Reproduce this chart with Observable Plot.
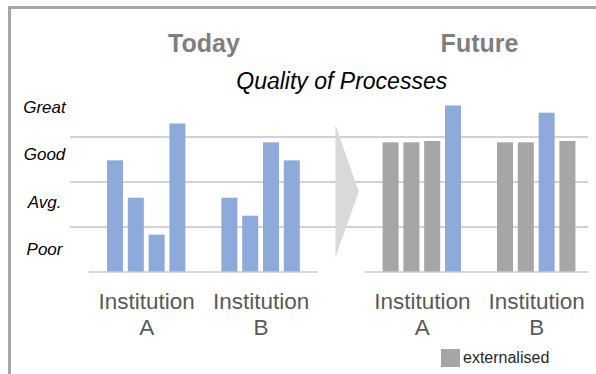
<!DOCTYPE html>
<html>
<head>
<meta charset="utf-8">
<script src="https://cdn.jsdelivr.net/npm/d3@7"></script>
<script src="https://cdn.jsdelivr.net/npm/@observablehq/plot@0.6"></script>
<style>
  html, body { margin: 0; padding: 0; background: #fff; overflow: hidden; }
  #wrap { position: relative; width: 596px; height: 374px; overflow: hidden; font-family: "Liberation Sans", Arial, sans-serif; }
  #frame { position: absolute; left: 8px; top: 6px; width: 700px; height: 500px; border-left: 3px solid #a6a6a6; border-top: 3px solid #a6a6a6; box-sizing: border-box; }
  #chart { position: absolute; left: 0; top: 0; }
  #legend { position: absolute; left: 441px; top: 349px; display: flex; align-items: center; font-size: 16px; color: #262626; }
  #legend .sw { width: 19px; height: 18px; margin-right: 3px; }
</style>
</head>
<body>
<div id="wrap">
  <div id="frame"></div>
  <div id="chart"></div>
  <div id="legend"></div>
</div>
<script>
// ---- data ----
const periods = ["Today", "Future"];
const institutions = ["Institution\nA", "Institution\nB"];
const yLabels = ["Poor", "Avg.", "Good", "Great"];
const todayA = [2.47, 1.64, 0.82, 3.29];
const todayB = [1.64, 1.24, 2.87, 2.47];
const futureA = [2.87, 2.87, 2.9, 3.69];
const futureB = [2.87, 2.87, 3.53, 2.9];
const todayAExt = [false, false, false, false];
const todayBExt = [false, false, false, false];
const futureAExt = [true, true, true, false];
const futureBExt = [true, true, false, true];
const legendLabel = "externalised";
const chartTitle = "Quality of Processes";

// ---- layout (in bar-slot units) ----
const SLOT_PX = 20.8;
const BAR_W = 0.77;
const INST_STEP = 5.5;
const PERIOD_STEP = 13.25;
const GROUP_W = 3 + BAR_W;
const PERIOD_W = INST_STEP + GROUP_W;
const LEFT_PX = 107;

const values = [[todayA, todayB], [futureA, futureB]];
const ext = [[todayAExt, todayBExt], [futureAExt, futureBExt]];

const rows = [];
const groups = [];
periods.forEach((p, pi) => {
  institutions.forEach((inst, ii) => {
    const start = pi * PERIOD_STEP + ii * INST_STEP;
    groups.push({period: p, inst, center: start + GROUP_W / 2});
    values[pi][ii].forEach((v, bi) => {
      rows.push({period: p, inst, slot: start + bi, value: v,
                 kind: ext[pi][ii][bi] ? "externalised" : "internal"});
    });
  });
});
const periodRows = periods.map((p, pi) => ({period: p, start: pi * PERIOD_STEP, center: pi * PERIOD_STEP + PERIOD_W / 2}));

const xMin = -LEFT_PX / SLOT_PX;
const xMax = (596 - LEFT_PX) / SLOT_PX;
const gridX1 = (70 - LEFT_PX) / SLOT_PX;
const gridX2 = (588 - LEFT_PX) / SLOT_PX;
const baseExt = 0.87;
const gapCenter = (PERIOD_W + PERIOD_STEP) / 2;
const arrow = [
  {x: gapCenter - 0.3, y: 3.26},
  {x: gapCenter + 0.82, y: 1.79},
  {x: gapCenter - 0.3, y: 0.33}
];

const font = "Liberation Sans, Arial, sans-serif";

const chart = Plot.plot({
  width: 596,
  height: 374,
  marginLeft: 0,
  marginRight: 0,
  marginTop: 91.5,
  marginBottom: 102.5,
  style: {fontFamily: font, background: "transparent", overflow: "visible"},
  x: {type: "linear", domain: [xMin, xMax], axis: null},
  y: {domain: [0, 4], axis: null},
  color: {domain: ["internal", "externalised"], range: ["#8eaadb", "#a6a6a6"]},
  marks: [
    Plot.ruleY([1, 2, 3], {x1: gridX1, x2: gridX2, stroke: "#a6a6a6", strokeWidth: 1}),
    Plot.ruleY(periodRows, {y: 0, x1: d => d.start - baseExt, x2: d => Math.min(d.start + PERIOD_W + baseExt, gridX2), stroke: "#d9d9d9", strokeWidth: 2}),
    Plot.line(arrow, {x: "x", y: "y", fill: "#d9d9d9", stroke: "none"}),
    Plot.rectY(rows, {x1: "slot", x2: d => d.slot + BAR_W, y1: 0, y2: "value", fill: "kind"}),
    Plot.text(yLabels, {y: (d, i) => 0.5 + i * 1.05, text: d => d, frameAnchor: "left", dx: 44, textAnchor: "middle", lineAnchor: "middle", fontStyle: "italic", fontSize: 17, fill: "#000"}),
    Plot.text(groups, {x: "center", y: 0, text: "inst", lineAnchor: "top", dy: 18, lineHeight: 1.18, fontSize: 22.5, fill: "#595959"}),
    Plot.text(periodRows, {x: "center", text: "period", frameAnchor: "top", lineAnchor: "middle", dy: -48, fontSize: 25, fontWeight: "bold", fill: "#7f7f7f"}),
    Plot.text([chartTitle], {x: gapCenter, text: d => d, frameAnchor: "top", lineAnchor: "middle", dy: -10.5, fontSize: 23, fontStyle: "italic", fill: "#000"})
  ]
});
document.getElementById("chart").appendChild(chart);

const legend = document.getElementById("legend");
const sw = document.createElement("span");
sw.className = "sw";
sw.style.background = "#a6a6a6";
legend.appendChild(sw);
const lt = document.createElement("span");
lt.textContent = legendLabel;
legend.appendChild(lt);
</script>
</body>
</html>
